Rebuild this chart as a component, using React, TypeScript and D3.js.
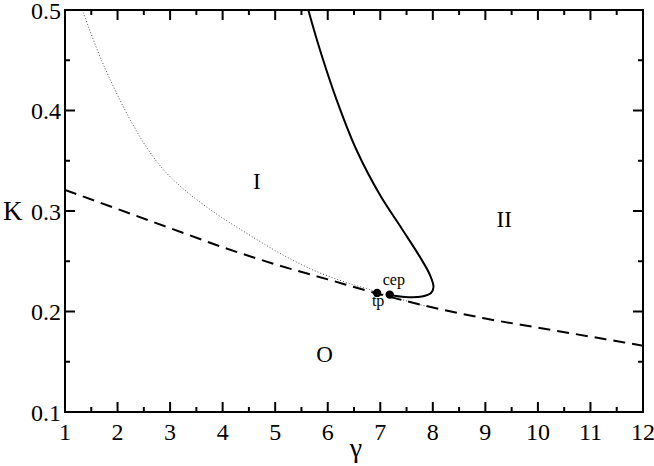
import React from "react";
import * as d3 from "d3";

const W = 654;
const H = 466;

// Data
const dashedGamma = [1, 2, 3, 4, 5, 6, 7, 8, 9, 10, 11, 12];
const dashedK = [0.321, 0.302, 0.283, 0.264, 0.247, 0.232, 0.217, 0.204, 0.193, 0.184, 0.175, 0.166];

const dottedGamma = [1.348, 1.698, 2.142, 2.523, 2.846, 3.221, 3.822, 4.46, 5.09, 5.72, 6.36, 6.74, 6.93, 7.3, 7.6, 7.9];
const dottedK = [0.4973, 0.4496, 0.4005, 0.3657, 0.3428, 0.3234, 0.2993, 0.2778, 0.2579, 0.2413, 0.2287, 0.2228, 0.2195, 0.2135, 0.209, 0.2048];

const solidGamma = [5.63, 5.853, 6.171, 6.548, 6.995, 7.414, 7.756, 7.946, 8.013, 7.965, 7.794, 7.471, 7.185];
const solidK = [0.5, 0.4602, 0.4104, 0.3607, 0.3159, 0.2821, 0.2542, 0.2363, 0.2244, 0.2184, 0.2149, 0.2144, 0.2164];

const pointNames = ["tp", "cep"];
const pointGamma = [6.94, 7.18];
const pointK = [0.2185, 0.2168];

const regionNames = ["I", "II", "O"];
const regionGamma = [4.65, 9.36, 5.94];
const regionK = [0.322, 0.284, 0.15];

const xTicks = [1, 2, 3, 4, 5, 6, 7, 8, 9, 10, 11, 12];
const yTicks = [0.1, 0.2, 0.3, 0.4, 0.5];

export default function App() {
  const left = 65, right = 643, top = 10, bottom = 412;
  const x = d3.scaleLinear().domain([1, 12]).range([left, right]);
  const y = d3.scaleLinear().domain([0.1, 0.5]).range([bottom, top]);

  const mono = d3
    .line<[number, number]>()
    .x((d) => x(d[0]))
    .y((d) => y(d[1]))
    .curve(d3.curveMonotoneX);
  const cr = d3
    .line<[number, number]>()
    .x((d) => x(d[0]))
    .y((d) => y(d[1]))
    .curve(d3.curveCatmullRom.alpha(0.5));

  const dashed = dashedGamma.map((g, i) => [g, dashedK[i]] as [number, number]);
  const dotted = dottedGamma.map((g, i) => [g, dottedK[i]] as [number, number]);
  const solid = solidGamma.map((g, i) => [g, solidK[i]] as [number, number]);

  const xMinor = d3.range(1.5, 12, 1);
  const yMinor = d3.range(0.15, 0.5, 0.1);
  const font = "Liberation Serif, Times New Roman, serif";

  return (
    <svg width={W} height={H} style={{ position: "absolute", left: 0, top: 0, background: "#fff", fontFamily: font }}>
      <defs>
        <clipPath id="plot">
          <rect x={left} y={top} width={right - left} height={bottom - top} />
        </clipPath>
      </defs>
      <g clipPath="url(#plot)" fill="none">
        <path d={cr(dotted) || ""} stroke="#555" strokeWidth={1} strokeDasharray="1,2" />
        <path d={mono(dashed) || ""} stroke="#000" strokeWidth={2} strokeDasharray="12,7" />
        <path d={cr(solid) || ""} stroke="#000" strokeWidth={2} />
      </g>
      {pointGamma.map((g, i) => (
        <circle key={pointNames[i]} cx={x(g)} cy={y(pointK[i])} r={4.2} fill="#000" />
      ))}
      <text x={x(7.18) - 7} y={y(0.217) - 9} fontSize={16} fill="#000">cep</text>
      <text x={x(6.94) + 1} y={y(0.219) + 14} fontSize={16} textAnchor="middle" fill="#000">tp</text>
      {regionNames.map((n, i) => (
        <text key={n} x={x(regionGamma[i])} y={y(regionK[i])} fontSize={23} textAnchor="middle" fill="#000">
          {n}
        </text>
      ))}
      <rect x={left} y={top} width={right - left} height={bottom - top} fill="none" stroke="#000" strokeWidth={2} />
      {xTicks.map((t) => (
        <g key={"x" + t}>
          <line x1={x(t)} x2={x(t)} y1={bottom} y2={bottom - 10} stroke="#000" strokeWidth={2} />
          <line x1={x(t)} x2={x(t)} y1={top} y2={top + 10} stroke="#000" strokeWidth={2} />
          <text x={x(t)} y={440} fontSize={24} textAnchor="middle" fill="#000">{t}</text>
        </g>
      ))}
      {xMinor.map((t) => (
        <g key={"xm" + t}>
          <line x1={x(t)} x2={x(t)} y1={bottom} y2={bottom - 5} stroke="#000" strokeWidth={2} />
          <line x1={x(t)} x2={x(t)} y1={top} y2={top + 5} stroke="#000" strokeWidth={2} />
        </g>
      ))}
      {yTicks.map((t) => (
        <g key={"y" + t}>
          <line x1={left} x2={left + 10} y1={y(t)} y2={y(t)} stroke="#000" strokeWidth={2} />
          <line x1={right} x2={right - 10} y1={y(t)} y2={y(t)} stroke="#000" strokeWidth={2} />
          <text x={61} y={y(t) + 8.5} fontSize={24} textAnchor="end" fill="#000">{t.toFixed(1)}</text>
        </g>
      ))}
      {yMinor.map((t) => (
        <g key={"ym" + t}>
          <line x1={left} x2={left + 5} y1={y(t)} y2={y(t)} stroke="#000" strokeWidth={2} />
          <line x1={right} x2={right - 5} y1={y(t)} y2={y(t)} stroke="#000" strokeWidth={2} />
        </g>
      ))}
      <text x={356} y={457} fontSize={28} textAnchor="middle" fill="#000">γ</text>
      <text x={3} y={220} fontSize={27} fill="#000">K</text>
    </svg>
  );
}
